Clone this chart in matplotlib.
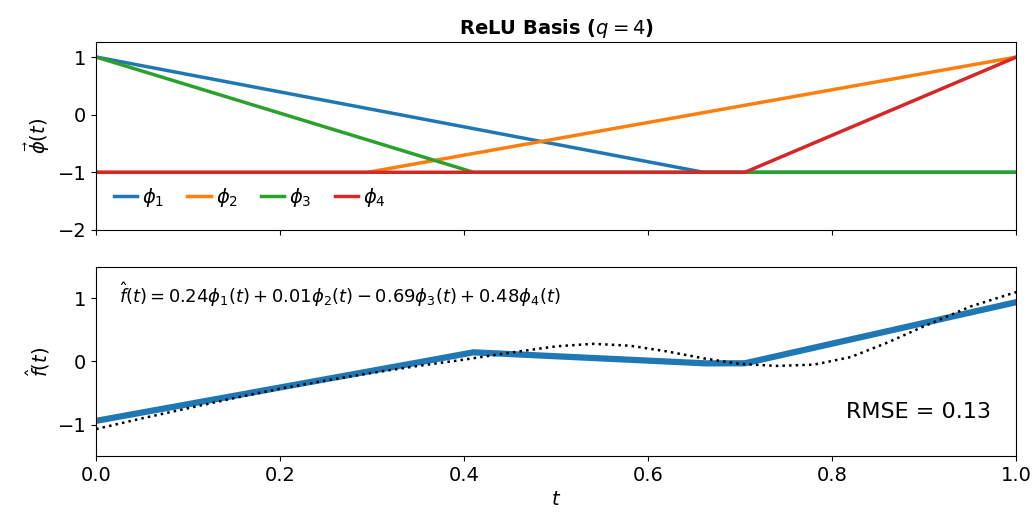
import numpy as np
import matplotlib
matplotlib.use('Agg')
import matplotlib.pyplot as plt

# basis vertices (piecewise linear ReLU basis)
phi1_t = [0.0, 0.66, 1.0]
phi1_v = [1.0, -1.0, -1.0]
phi2_t = [0.0, 0.295, 1.0]
phi2_v = [-1.0, -1.0, 1.0]
phi3_t = [0.0, 0.41, 1.0]
phi3_v = [1.0, -1.0, -1.0]
phi4_t = [0.0, 0.705, 1.0]
phi4_v = [-1.0, -1.0, 1.0]

coefs = [0.24, 0.01, -0.69, 0.48]

# target curve (dotted)
target_t = [0.0, 0.05, 0.1, 0.15, 0.2, 0.25, 0.3, 0.35, 0.4, 0.45, 0.5, 0.54,
            0.58, 0.62, 0.66, 0.7, 0.74, 0.78, 0.82, 0.86, 0.9, 0.95, 1.0]
target_v = [-1.07, -0.9, -0.74, -0.58, -0.43, -0.3, -0.18, -0.07, 0.03, 0.14, 0.24, 0.28,
            0.25, 0.16, 0.05, -0.04, -0.07, -0.05, 0.07, 0.3, 0.56, 0.87, 1.1]

rmse = 0.13

t = np.linspace(0, 1, 501)
phis = [np.interp(t, phi1_t, phi1_v), np.interp(t, phi2_t, phi2_v),
        np.interp(t, phi3_t, phi3_v), np.interp(t, phi4_t, phi4_v)]
fhat = sum(c * p for c, p in zip(coefs, phis))

fig = plt.figure(figsize=(10.34, 5.19), dpi=100)
ax1 = fig.add_axes([0.093, 0.557, 0.89, 0.362])
ax2 = fig.add_axes([0.093, 0.121, 0.89, 0.365], sharex=ax1)

for i, p in enumerate(phis):
    ax1.plot(t, p, lw=2.5, label=r'$\phi_%d$' % (i + 1))
ax1.set_ylim(-2, 1.26)
ax1.set_yticks([-2, -1, 0, 1])
ax1.set_ylabel(r'$\vec{\phi}(t)$', fontsize=14)
ax1.legend(loc='lower left', ncol=4, frameon=False, fontsize=14,
           bbox_to_anchor=(0.0, 0.02), handlelength=1.2, handletextpad=0.25,
           columnspacing=1.2)
ax1.set_title(r'ReLU Basis ($q=4$)', fontweight='bold', fontsize=14)
plt.setp(ax1.get_xticklabels(), visible=False)

ax2.plot(t, fhat, lw=4.5, color='tab:blue')
ax2.plot(target_t, target_v, ':', color='black', lw=1.8)
ax2.set_xlim(0, 1)
ax2.set_ylim(-1.5, 1.5)
ax2.set_yticks([-1, 0, 1])
ax2.set_ylabel(r'$\hat{f}(t)$', fontsize=14)
ax2.set_xlabel(r'$t$', fontsize=14)
eq = r'$\hat{f}(t) = %.2f\phi_1(t) + %.2f\phi_2(t) - %.2f\phi_3(t) + %.2f\phi_4(t)$' % (
    coefs[0], coefs[1], -coefs[2], coefs[3])
ax2.text(0.025, 0.81, eq, transform=ax2.transAxes, fontsize=13)
ax2.text(0.972, 0.2, 'RMSE = %.2f' % rmse, transform=ax2.transAxes,
         fontsize=16, ha='right')

for ax in (ax1, ax2):
    ax.tick_params(labelsize=14)

plt.savefig('out.png', dpi=100)
